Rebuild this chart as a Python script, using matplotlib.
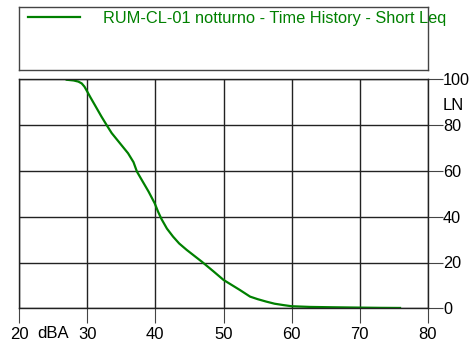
import matplotlib
matplotlib.use("Agg")
import matplotlib.pyplot as plt
from matplotlib.lines import Line2D

plt.rcParams['font.family'] = ['Liberation Sans', 'DejaVu Sans']

# Curva cumulativa LN
livello_dba = [27.0, 28.0, 28.7, 29.2, 29.6, 30.0, 30.5, 31.1, 32.1, 32.9, 33.6,
               34.8, 36.0, 36.8, 37.3, 38.0, 39.0, 39.9, 40.4, 40.9, 41.7, 42.6,
               43.5, 44.6, 46.8, 48.5, 50.0, 52.4, 53.9, 55.0, 56.3, 57.5, 58.8,
               60.0, 62.7, 66.0, 70.0, 73.0, 75.9]
ln = [99.8, 99.5, 99.0, 98.2, 96.8, 94.7, 92.0, 88.9, 83.7, 79.8, 76.5,
      72.1, 67.7, 63.8, 59.7, 56.1, 51.0, 45.9, 42.2, 39.0, 34.8, 31.3,
      28.3, 25.5, 20.4, 16.2, 12.4, 8.0, 5.1, 4.0, 2.9, 2.0, 1.4,
      0.9, 0.6, 0.45, 0.3, 0.2, 0.15]

xticks = [20, 30, 40, 50, 60, 70, 80]
yticks = [0, 20, 40, 60, 80, 100]
etichetta = 'RUM-CL-01 notturno - Time History - Short Leq'
verde = '#008000'
W, H = 470, 347

fig = plt.figure(figsize=(W / 100, H / 100), dpi=100)

# area del grafico
ax = fig.add_axes([19 / W, 1 - 308.3 / H, (428 - 19) / W, (308.3 - 79.3) / H])
ax.plot(livello_dba, ln, color=verde, linewidth=1.6)
ax.set_xlim(20, 80)
ax.set_ylim(0, 100)
ax.set_xticks(xticks)
ax.set_yticks(yticks)
ax.yaxis.tick_right()
ax.grid(True, color='#222222', linewidth=1)
for s in ax.spines.values():
    s.set_color('#222222')
    s.set_linewidth(1)
ax.tick_params(axis='x', length=11, width=0.8, color='#444444', pad=2.5, labelsize=12)
ax.tick_params(axis='y', length=10.5, width=0.8, color='#444444', pad=0.3, labelsize=11.7)

ax.set_xlabel('dBA', fontsize=12)
ax.xaxis.set_label_coords((53 - 19) / 409, (308.3 - 333) / 229)
ax.xaxis.label.set_va('center')
ax.yaxis.set_label_position('right')
ax.set_ylabel('LN', fontsize=12, rotation=0)
ax.yaxis.set_label_coords((443 - 19) / 409, (308.3 - 105) / 229)
ax.yaxis.label.set_ha('left')
ax.yaxis.label.set_va('center')

# riquadro legenda
axl = fig.add_axes([19 / W, 1 - 70 / H, (428 - 19) / W, (70 - 7.3) / H])
axl.set_xticks([])
axl.set_yticks([])
for s in axl.spines.values():
    s.set_color('#444444')
    s.set_linewidth(1)
handle = Line2D([], [], color=verde, linewidth=1.6)
leg = axl.legend([handle], [etichetta], loc='upper left', frameon=False,
                 fontsize=11.8, handlelength=3.15, handletextpad=1.4,
                 borderaxespad=0.0, borderpad=0.2, bbox_to_anchor=(0.014, 1.0))
for t in leg.get_texts():
    t.set_color(verde)

fig.savefig('out.png', dpi=100)
